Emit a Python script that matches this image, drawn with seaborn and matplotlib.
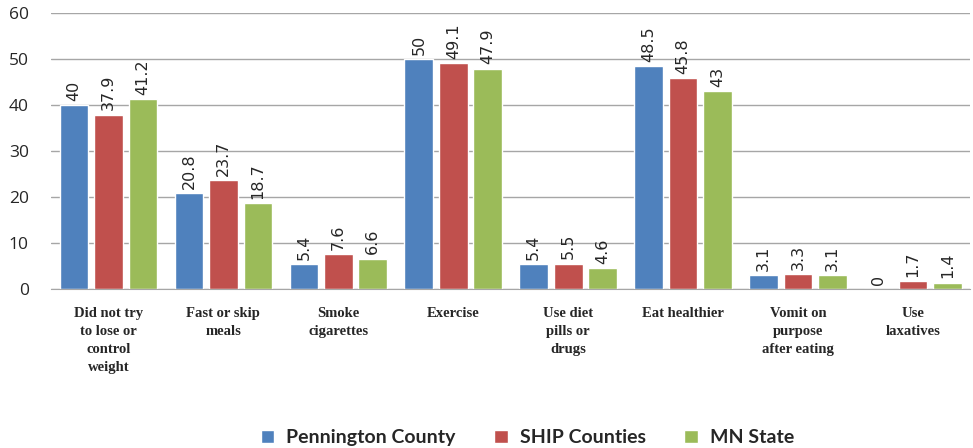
import pandas as pd
import matplotlib
matplotlib.use("Agg")
import matplotlib.pyplot as plt
import seaborn as sns

# Dados do gráfico
categorias = ["Did not try\nto lose or\ncontrol\nweight", "Fast or skip\nmeals", "Smoke\ncigarettes",
              "Exercise", "Use diet\npills or\ndrugs", "Eat healthier",
              "Vomit on\npurpose\nafter eating", "Use\nlaxatives"]
series = ["Pennington County", "SHIP Counties", "MN State"]
pennington = [40, 20.8, 5.4, 50, 5.4, 48.5, 3.1, 0]
ship = [37.9, 23.7, 7.6, 49.1, 5.5, 45.8, 3.3, 1.7]
mn_state = [41.2, 18.7, 6.6, 47.9, 4.6, 43, 3.1, 1.4]
cores = ["#4F81BD", "#C0504D", "#9BBB59"]

dados = pd.DataFrame({
    "categoria": categorias * 3,
    "serie": [s for s in series for _ in categorias],
    "valor": pennington + ship + mn_state,
})

sns.set_style("white")
fig = plt.figure(figsize=(9.73, 4.48), dpi=100)
ax = fig.add_axes([0.0524, 0.355, 0.945, 0.616])

sns.barplot(data=dados, x="categoria", y="valor", hue="serie", palette=cores,
            width=0.9, gap=0.17, ax=ax, legend=True, saturation=1)

for cont in ax.containers:
    ax.bar_label(cont, fmt="%g", rotation=90, padding=3, fontsize=11.5, family="DejaVu Sans")

ax.set_ylim(0, 60)
ax.set_yticks(range(0, 61, 10))
ax.set_xlim(-0.5, 7.5)
ax.yaxis.grid(True, color="#A6A6A6", linewidth=1)
ax.set_axisbelow(True)
for lado in ["left", "right", "top"]:
    ax.spines[lado].set_visible(False)
ax.spines["bottom"].set_color("#A6A6A6")
ax.set_xlabel("")
ax.set_ylabel("")
ax.tick_params(axis="both", length=0)
ax.tick_params(axis="y", pad=16)
ax.tick_params(axis="x", pad=13)
for t in ax.get_yticklabels():
    t.set_fontfamily("Open Sans")
    t.set_fontsize(12.5)
for t in ax.get_xticklabels():
    t.set_fontfamily("Liberation Serif")
    t.set_fontweight("bold")
    t.set_fontsize(10.5)
    t.set_linespacing(1.5)

handles, labels = ax.get_legend_handles_labels()
ax.get_legend().remove()
fig.legend(handles, labels, loc="lower center", bbox_to_anchor=(0.542, -0.035), ncol=3,
           frameon=False, prop={"family": "Lato", "weight": "bold", "size": 14},
           handlelength=0.7, handleheight=0.7, columnspacing=2.0, handletextpad=0.6)

fig.savefig("out.png", dpi=100)
